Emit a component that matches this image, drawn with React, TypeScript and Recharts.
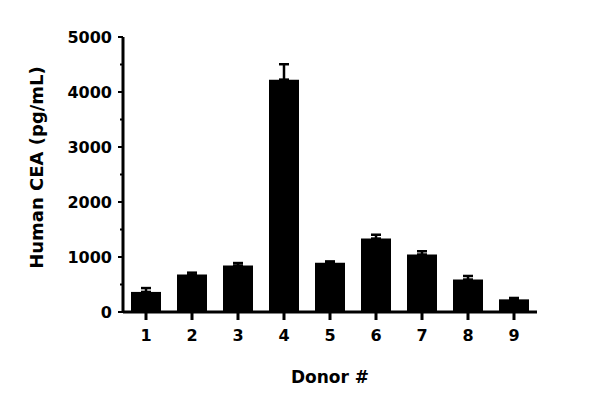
import React from "react";
import { BarChart, Bar, XAxis, YAxis, ErrorBar, Label } from "recharts";

const donors = ["1", "2", "3", "4", "5", "6", "7", "8", "9"];
const means = [365, 680, 845, 4225, 895, 1335, 1045, 590, 230];
const sems = [70, 35, 45, 280, 25, 70, 60, 65, 25];
const yTicks = [0, 500, 1000, 1500, 2000, 2500, 3000, 3500, 4000, 4500, 5000];

const FONT = "'DejaVu Sans', sans-serif";

const data = donors.map((d, i) => ({
  donor: d,
  mean: means[i],
  err: [0, sems[i]],
}));

function YTick(props: any) {
  const { x, y, payload } = props;
  const major = payload.value % 1000 === 0;
  const len = major ? 5 : 3;
  return (
    <g>
      <line x1={x} x2={x - len} y1={y} y2={y} stroke="#000" strokeWidth={2} />
      {major && (
        <text
          x={x - 11}
          y={y}
          dy="0.36em"
          textAnchor="end"
          fontFamily={FONT}
          fontWeight={700}
          fontSize={16}
          fill="#000"
        >
          {payload.value}
        </text>
      )}
    </g>
  );
}

function YLabel(props: any) {
  const { viewBox } = props;
  const cy = viewBox.y + viewBox.height / 2 - 7;
  const cx = 36;
  return (
    <text
      x={cx}
      y={cy}
      transform={`rotate(-90, ${cx}, ${cy})`}
      textAnchor="middle"
      dominantBaseline="central"
      fontFamily={FONT}
      fontWeight={700}
      fontSize={18}
      fill="#000"
    >
      Human CEA (pg/mL)
    </text>
  );
}

export default function App() {
  return (
    <div style={{ position: "absolute", left: 0, top: 0, background: "#fff" }}>
      <BarChart
        width={600}
        height={405}
        data={data}
        margin={{ top: 37, right: 63, left: 0, bottom: 0 }}
        barSize={30}
      >
        <XAxis
          dataKey="donor"
          height={93}
          axisLine={{ stroke: "#000", strokeWidth: 3 }}
          tickLine={{ stroke: "#000", strokeWidth: 3 }}
          tickSize={8}
          tickMargin={10}
          tick={{ fill: "#000", fontFamily: FONT, fontWeight: 700, fontSize: 16 }}
        >
          <Label
            value="Donor #"
            position="insideBottom"
            offset={22}
            fill="#000"
            fontFamily={FONT}
            fontWeight={700}
            fontSize={17}
          />
        </XAxis>
        <YAxis
          width={123}
          domain={[0, 5000]}
          ticks={yTicks}
          interval={0}
          axisLine={{ stroke: "#000", strokeWidth: 3 }}
          tickLine={false}
          tickSize={0}
          tickMargin={0}
          tick={<YTick />}
        >
          <Label content={<YLabel />} />
        </YAxis>
        <Bar dataKey="mean" fill="#000" isAnimationActive={false}>
          <ErrorBar dataKey="err" width={5} stroke="#000" strokeWidth={2.5} isAnimationActive={false} />
        </Bar>
      </BarChart>
    </div>
  );
}
